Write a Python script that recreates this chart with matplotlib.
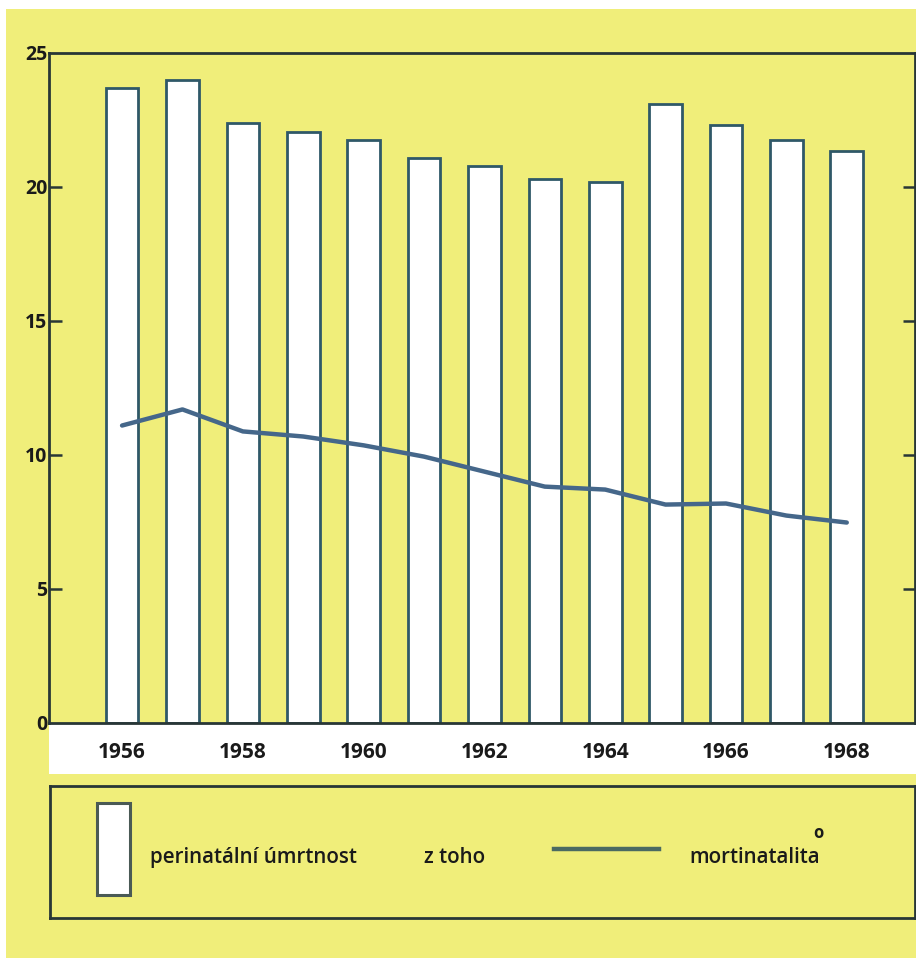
import matplotlib
matplotlib.use("Agg")
import matplotlib.pyplot as plt
from matplotlib.patches import Rectangle
from matplotlib.lines import Line2D

years = [1956, 1957, 1958, 1959, 1960, 1961, 1962, 1963, 1964, 1965, 1966, 1967, 1968]
perinatal = [23.70, 24.00, 22.39, 22.06, 21.76, 21.08, 20.79, 20.30, 20.19, 23.10, 22.32, 21.76, 21.36]
mortinatal = [11.10, 11.70, 10.88, 10.69, 10.36, 9.94, 9.38, 8.82, 8.71, 8.15, 8.19, 7.74, 7.48]
xtick_years = [1956, 1958, 1960, 1962, 1964, 1966, 1968]
xtick_labels = ["1956", "1958", "1960", "1962", "1964", "1966", "1968"]
yticks = [0, 5, 10, 15, 20, 25]
legend_bar_label = "perinatální úmrtnost"
legend_mid_label = "z toho"
legend_line_label = "mortinatalita"

YELLOW = "#f0ee7a"
FRAME = "#283636"
BAR_EDGE = "#2f5868"
LINE_C = "#45678a"

W, H = 916, 958
fig = plt.figure(figsize=(W / 100, H / 100), dpi=100)
fig.patch.set_facecolor("white")

def fx(px):
    return px / W

def fy(py):
    return 1 - py / H

# yellow paper
fig.add_artist(Rectangle((fx(6), 0), 1 - fx(6), fy(9), transform=fig.transFigure,
                         facecolor=YELLOW, edgecolor="none", zorder=0))
# white band under the plot
fig.add_artist(Rectangle((fx(49), fy(774)), 1 - fx(49), fy(723) - fy(774),
                         transform=fig.transFigure, facecolor="white",
                         edgecolor="none", zorder=0))

font = "Open Sans"

ax = fig.add_axes([fx(49), fy(723), fx(915) - fx(49), fy(53) - fy(723)])
ax.set_facecolor(YELLOW)
ax.bar(years, perinatal, width=0.54, color="white", edgecolor=BAR_EDGE,
       linewidth=2.0, zorder=2)
ax.plot(years, mortinatal, color=LINE_C, linewidth=3.2, solid_capstyle="round",
        solid_joinstyle="round", zorder=3)
ax.set_xlim(1954.79, 1969.13)
ax.set_ylim(0, 25)
for s in ax.spines.values():
    s.set_color(FRAME)
    s.set_linewidth(2.0)

ax.set_yticks(yticks)
ax.set_yticklabels([str(v) for v in yticks], fontfamily=font, fontweight="bold",
                   fontsize=14, color="#1a1a1a")
ax.tick_params(axis="y", direction="in", length=9, width=1.8, color=FRAME,
               pad=1, right=True)
for t in ax.yaxis.get_major_ticks():
    if t.get_loc() in (0, 25):
        t.tick1line.set_visible(False)
        t.tick2line.set_visible(False)

ax.set_xticks(xtick_years)
ax.set_xticklabels(xtick_labels, fontfamily=font, fontweight="bold",
                   fontsize=15, color="#1a1a1a")
ax.tick_params(axis="x", length=0, pad=14)

# legend box
lax = fig.add_axes([fx(50), fy(918), 1 - fx(50) - 0.001, fy(786) - fy(918)])
lax.set_facecolor(YELLOW)
lax.set_xlim(50, 916)
lax.set_ylim(918, 786)
lax.set_xticks([])
lax.set_yticks([])
for s in lax.spines.values():
    s.set_color(FRAME)
    s.set_linewidth(2.0)
lax.add_patch(Rectangle((97, 803), 33, 92, facecolor="white", edgecolor="#4a5a55",
                        linewidth=2.2))
lax.text(150, 858, legend_bar_label, fontfamily=font, fontweight="semibold",
         fontsize=14.8, color="#1a1a1a", va="center", ha="left")
lax.text(424, 858, legend_mid_label, fontfamily=font, fontweight="semibold",
         fontsize=14.8, color="#1a1a1a", va="center", ha="left")
lax.add_line(Line2D([555, 660], [849, 849], color="#4b6a62", linewidth=3.2))
lax.text(690, 858, legend_line_label, fontfamily=font, fontweight="semibold",
         fontsize=14.8, color="#1a1a1a", va="center", ha="left")
lax.text(819, 833, "o", fontfamily=font, fontweight="bold", fontsize=12,
         color="#1a1a1a", va="center", ha="center")

fig.savefig("out.png", dpi=100, facecolor=fig.get_facecolor())
